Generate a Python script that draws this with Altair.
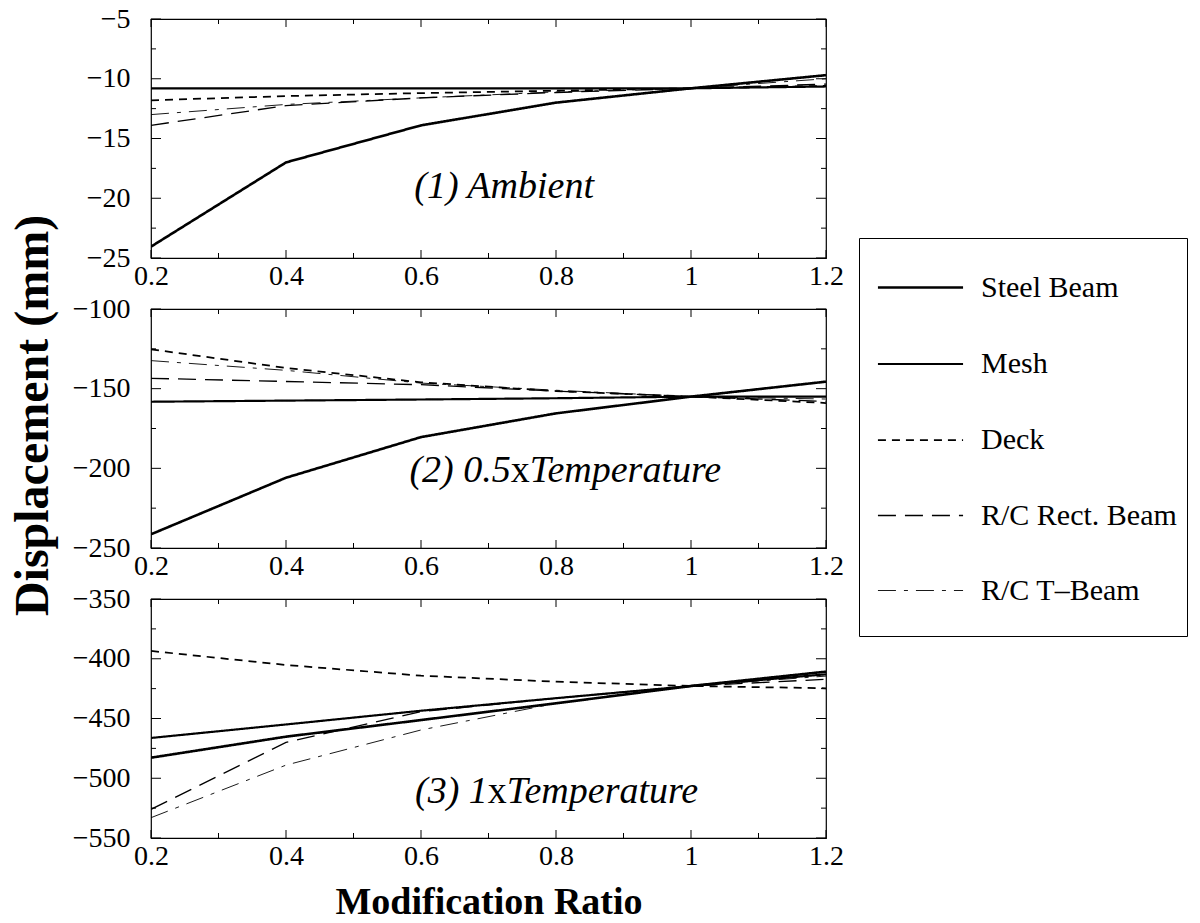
import altair as alt
import pandas as pd

# Modification ratio sampled for every component
ratios = [0.2, 0.4, 0.6, 0.8, 1.0, 1.2]

series_names = ["Steel Beam", "Mesh", "Deck", "R/C Rect. Beam", "R/C T\u2013Beam"]

# (1) Ambient, displacement in mm
ambient_steel = [-24.05, -17.0, -13.9, -12.0, -10.8, -9.7]
ambient_mesh = [-10.8, -10.8, -10.8, -10.8, -10.8, -10.65]
ambient_deck = [-11.8, -11.45, -11.2, -11.0, -10.8, -10.6]
ambient_rect = [-13.9, -12.25, -11.6, -11.15, -10.8, -10.45]
ambient_tbeam = [-13.0, -12.15, -11.6, -11.1, -10.8, -10.0]

# (2) 0.5 x Temperature
half_steel = [-241.4, -205.9, -180.4, -165.5, -155.0, -145.6]
half_mesh = [-158.2, -157.5, -156.8, -156.0, -155.0, -155.0]
half_deck = [-125.3, -137.0, -146.0, -151.5, -155.0, -159.0]
half_rect = [-143.5, -145.5, -147.5, -151.5, -155.0, -158.0]
half_tbeam = [-132.4, -138.5, -146.5, -151.0, -155.0, -156.5]

# (3) 1 x Temperature
full_steel = [-482.8, -465.2, -451.3, -437.3, -422.8, -410.8]
full_mesh = [-466.3, -455.0, -443.5, -433.0, -422.8, -413.0]
full_deck = [-393.5, -405.2, -414.2, -419.2, -422.8, -424.7]
full_rect = [-526.0, -470.0, -444.3, -433.0, -422.8, -417.2]
full_tbeam = [-533.0, -489.0, -459.6, -437.3, -422.8, -414.5]

panel_values = {
    1: [ambient_steel, ambient_mesh, ambient_deck, ambient_rect, ambient_tbeam],
    2: [half_steel, half_mesh, half_deck, half_rect, half_tbeam],
    3: [full_steel, full_mesh, full_deck, full_rect, full_tbeam],
}

# y-axis ranges and tick spacing of each panel
y_domains = {1: [-25, -5], 2: [-250, -100], 3: [-550, -350]}
y_major = {1: [-25, -20, -15, -10, -5],
           2: [-250, -200, -150, -100],
           3: [-550, -500, -450, -400, -350]}
y_minor = {1: [-22.5, -17.5, -12.5, -7.5],
           2: [-225, -175, -125],
           3: [-525, -475, -425, -375]}
x_major = [0.2, 0.4, 0.6, 0.8, 1.0, 1.2]
x_minor = [0.3, 0.5, 0.7, 0.9, 1.1]

# panel annotations: (italic prefix, upright part, italic suffix, x, y)
notes = {
    1: ("(1) Ambient", "", "", 0.59, -20.0),
    2: ("(2) 0.5", "x", "Temperature", 0.733, -208.6),
    3: ("(3) 1", "x", "Temperature", 0.699, -520.7),
}

dash_styles = [[1, 0], [1, 0], [8, 6], [18, 9], [18, 8, 4, 8]]
line_widths = [2.6, 0.9, 1.3, 1.3, 1.3]

SERIF = "Liberation Serif"
W, H = 675, 239
MAJOR_X, MINOR_X = 8, 5
MAJOR_Y, MINOR_Y = 10, 5
NOTE_SIZE = 38

rows = []
for p, tables in panel_values.items():
    for name, vals in zip(series_names, tables):
        for r, v in zip(ratios, vals):
            rows.append({"panel": p, "series": name, "ratio": r, "disp": v})
df = pd.DataFrame(rows)

# a blank bottom title gives the legend frame extra depth below the last entry
legend_def = alt.Legend(
    title="\u00a0", titleOrient="bottom", titleFontSize=12, titlePadding=9,
    titleAnchor="start",
    orient="none", legendX=708, legendY=219,
    symbolType="M-1.12,0H1.12", symbolSize=5776,
    symbolStrokeColor="black", symbolOffset=12,
    labelFont=SERIF, labelFontSize=30, labelColor="black",
    labelOffset=21, rowPadding=21.5, padding=10,
    strokeColor="black", labelLimit=400,
)


def make_panel(p):
    x_enc = alt.X(
        "ratio:Q",
        scale=alt.Scale(domain=[0.2, 1.2], nice=False, zero=False),
        axis=alt.Axis(
            values=x_major, format="~g", ticks=False, tickSize=0, domain=False,
            grid=False, labelFont=SERIF, labelFontSize=28, labelColor="black",
            labelPadding=4, labelFlush=False,
            title="Modification Ratio" if p == 3 else "",
            titleFont=SERIF, titleFontSize=38, titleFontWeight="bold",
            titleColor="black", titlePadding=13,
        ),
    )
    y_enc = alt.Y(
        "disp:Q",
        scale=alt.Scale(domain=y_domains[p], nice=False, zero=False),
        axis=alt.Axis(
            values=y_major[p], ticks=False, tickSize=0, domain=False, grid=False,
            labelFont=SERIF, labelFontSize=28, labelColor="black",
            labelPadding=21, labelFlush=False,
            title="Displacement (mm)" if p == 2 else "",
            titleFont=SERIF, titleFontSize=48, titleFontWeight="bold",
            titleColor="black", titlePadding=15, titleY=106,
        ),
    )

    lines = alt.Chart(df[df.panel == p]).mark_line(color="black", clip=True).encode(
        x=x_enc,
        y=y_enc,
        strokeDash=alt.StrokeDash(
            "series:N",
            scale=alt.Scale(domain=series_names, range=dash_styles),
            legend=legend_def,
        ),
        strokeWidth=alt.StrokeWidth(
            "series:N",
            scale=alt.Scale(domain=series_names, range=line_widths),
            legend=legend_def,
        ),
    )

    layers = [lines]

    # inward ticks along the four sides of the frame
    xt_major = pd.DataFrame({"ratio": x_major})
    xt_minor = pd.DataFrame({"ratio": x_minor})
    for tdf, ln in ((xt_major, MAJOR_X), (xt_minor, MINOR_X)):
        base = alt.Chart(tdf).mark_rule(color="black", strokeWidth=1)
        layers.append(base.encode(x=x_enc, y=alt.value(0), y2=alt.value(ln)))
        layers.append(base.encode(x=x_enc, y=alt.value(H), y2=alt.value(H - ln)))
    yt_major = pd.DataFrame({"disp": y_major[p]})
    yt_minor = pd.DataFrame({"disp": y_minor[p]})
    for tdf, ln in ((yt_major, MAJOR_Y), (yt_minor, MINOR_Y)):
        base = alt.Chart(tdf).mark_rule(color="black", strokeWidth=1)
        layers.append(base.encode(y=y_enc, x=alt.value(0), x2=alt.value(ln)))
        layers.append(base.encode(y=y_enc, x=alt.value(W), x2=alt.value(W - ln)))

    pre, mid, post, nx, ny = notes[p]
    note_df = pd.DataFrame({"ratio": [nx], "disp": [ny], "pre": [pre], "mid": [mid], "post": [post]})
    if mid:
        layers.append(alt.Chart(note_df).mark_text(
            font=SERIF, fontSize=NOTE_SIZE, fontStyle="italic", align="right",
            baseline="alphabetic", color="black").encode(x=x_enc, y=y_enc, text="pre:N"))
        layers.append(alt.Chart(note_df).mark_text(
            font=SERIF, fontSize=NOTE_SIZE, align="left",
            baseline="alphabetic", color="black").encode(x=x_enc, y=y_enc, text="mid:N"))
        layers.append(alt.Chart(note_df).mark_text(
            font=SERIF, fontSize=NOTE_SIZE, fontStyle="italic", align="left", dx=19,
            baseline="alphabetic", color="black").encode(x=x_enc, y=y_enc, text="post:N"))
    else:
        layers.append(alt.Chart(note_df).mark_text(
            font=SERIF, fontSize=NOTE_SIZE, fontStyle="italic", align="left",
            baseline="alphabetic", color="black").encode(x=x_enc, y=y_enc, text="pre:N"))

    return alt.layer(*layers).properties(width=W, height=H)


chart = alt.vconcat(
    make_panel(1), make_panel(2), make_panel(3), spacing=51, bounds="flush"
).properties(
    padding={"left": 8, "top": 4, "right": 0, "bottom": 0},
    background="white",
).configure_view(
    stroke="black", strokeWidth=1.2
)

chart.save("out.html", embed_options={"renderer": "svg", "actions": False})
